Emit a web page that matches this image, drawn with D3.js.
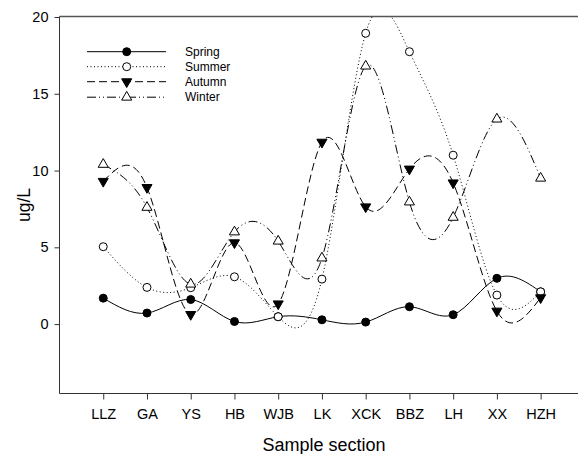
<!DOCTYPE html>
<html>
<head>
<meta charset="utf-8">
<script src="https://cdn.jsdelivr.net/npm/d3@7"></script>
<style>
  body { margin: 0; background: #fff; overflow: hidden; }
  text { font-family: Arial, "Liberation Sans", sans-serif; }
</style>
</head>
<body>
<div id="chart"></div>
<script>
// Sample sections along the x axis.
var sections = ["LLZ", "GA", "YS", "HB", "WJB", "LK", "XCK", "BBZ", "LH", "XX", "HZH"];

// Concentrations (ug/L) per season.
var spring = [1.69, 0.72, 1.6, 0.17, 0.48, 0.28, 0.13, 1.13, 0.61, 2.98, 2.1];
var summer = [5.04, 2.39, 2.37, 3.08, 0.48, 2.93, 18.94, 17.74, 11.0, 1.89, 2.1];
var autumn = [9.3, 8.9, 0.63, 5.3, 1.32, 11.85, 7.64, 10.1, 9.2, 0.85, 1.72];
var winter = [10.4, 7.6, 2.6, 6.0, 5.4, 4.3, 16.8, 7.95, 6.95, 13.35, 9.5];

var yTicks = [0, 5, 10, 15, 20];

var seasons = [
  {name: "Spring", values: spring, dash: null, marker: "circle", fill: "#000"},
  {name: "Summer", values: summer, dash: "1,2.5", marker: "circle", fill: "#fff"},
  {name: "Autumn", values: autumn, dash: "8,4", marker: "down", fill: "#000"},
  {name: "Winter", values: winter, dash: "9,3,1,3,1,3", marker: "up", fill: "#fff"}
];

var W = 578, H = 454;
var pLeft = 59.5, pRight = 578, pTop = 16.5, pBottom = 393.5;

var svg = d3.select("#chart").append("svg")
    .attr("width", W)
    .attr("height", H)
    .style("display", "block");

var x = d3.scaleLinear()
    .domain([-1, (pRight - pLeft) / 43.74 - 1])
    .range([pLeft, pRight]);

var y = d3.scaleLinear()
    .domain([-4.52, 20])
    .range([pBottom, 17]);

// Clip region so the spline overshoot stays inside the frame.
svg.append("clipPath")
    .attr("id", "plotclip")
  .append("rect")
    .attr("x", pLeft)
    .attr("y", pTop)
    .attr("width", pRight - pLeft)
    .attr("height", pBottom - pTop);

// Top frame line.
svg.append("line")
    .attr("x1", pLeft).attr("x2", pRight)
    .attr("y1", pTop).attr("y2", pTop)
    .style("stroke", "#555").style("stroke-width", 1.5);

var yAxis = d3.axisLeft(y)
    .tickValues(yTicks)
    .tickSize(5)
    .tickPadding(6);
var gy = svg.append("g")
    .attr("transform", "translate(" + pLeft + ",0)")
    .call(yAxis);
gy.select(".domain").remove();
gy.append("line")
    .attr("x1", 0).attr("x2", 0)
    .attr("y1", pTop).attr("y2", pBottom)
    .style("stroke", "#333");
gy.selectAll("text").style("font-size", "14.5px").style("fill", "#000");
gy.selectAll(".tick line").style("stroke", "#333");

var xAxis = d3.axisBottom(x)
    .tickValues(d3.range(sections.length))
    .tickFormat(function(i) { return sections[i]; })
    .tickSize(6)
    .tickPadding(9);
var gx = svg.append("g")
    .attr("transform", "translate(0," + pBottom + ")")
    .call(xAxis);
gx.select(".domain").remove();
gx.append("line")
    .attr("x1", pLeft).attr("x2", pRight)
    .attr("y1", 0).attr("y2", 0)
    .style("stroke", "#333");
gx.selectAll("text").style("font-size", "14.5px").style("fill", "#000");
gx.selectAll(".tick line").style("stroke", "#333");

// Axis titles.
svg.append("text")
    .attr("x", 324)
    .attr("y", 451)
    .attr("text-anchor", "middle")
    .style("font-size", "18px")
    .text("Sample section");

svg.append("text")
    .attr("transform", "translate(30,205) rotate(-90)")
    .attr("text-anchor", "middle")
    .style("font-size", "17.5px")
    .text("ug/L");

var line = d3.line()
    .x(function(d, i) { return x(i); })
    .y(function(d) { return y(d); })
    .curve(d3.curveNatural);

function marker(sel, s) {
  if (s.marker == "circle") {
    sel.append("circle")
        .attr("r", 4)
        .style("fill", s.fill)
        .style("stroke", "#000")
        .style("stroke-width", 1);
  } else {
    sel.append("path")
        .attr("d", d3.symbol().type(d3.symbolTriangle).size(44))
        .attr("transform", s.marker == "down" ? "rotate(180)" : null)
        .style("fill", s.fill)
        .style("stroke", "#000")
        .style("stroke-width", 1);
  }
}

var plot = svg.append("g").attr("clip-path", "url(#plotclip)");

seasons.forEach(function(s) {
  plot.append("path")
      .attr("d", line(s.values))
      .style("fill", "none")
      .style("stroke", "#000")
      .style("stroke-width", 1)
      .style("stroke-dasharray", s.dash);
});

seasons.forEach(function(s) {
  s.values.forEach(function(v, i) {
    var g = plot.append("g")
        .attr("transform", "translate(" + x(i) + "," + y(v) + ")");
    marker(g, s);
  });
});

// Legend.
var legend = svg.append("g");
seasons.forEach(function(s, i) {
  var ly = [51.7, 66.7, 81.7, 97.2][i];
  legend.append("line")
      .attr("x1", 87).attr("x2", 166)
      .attr("y1", ly).attr("y2", ly)
      .style("stroke", "#000")
      .style("stroke-dasharray", s.dash);
  var g = legend.append("g")
      .attr("transform", "translate(126.7," + ly + ")");
  marker(g, s);
  legend.append("text")
      .attr("x", 185)
      .attr("y", ly + 4)
      .style("font-size", "12px")
      .text(s.name);
});
</script>
</body>
</html>
